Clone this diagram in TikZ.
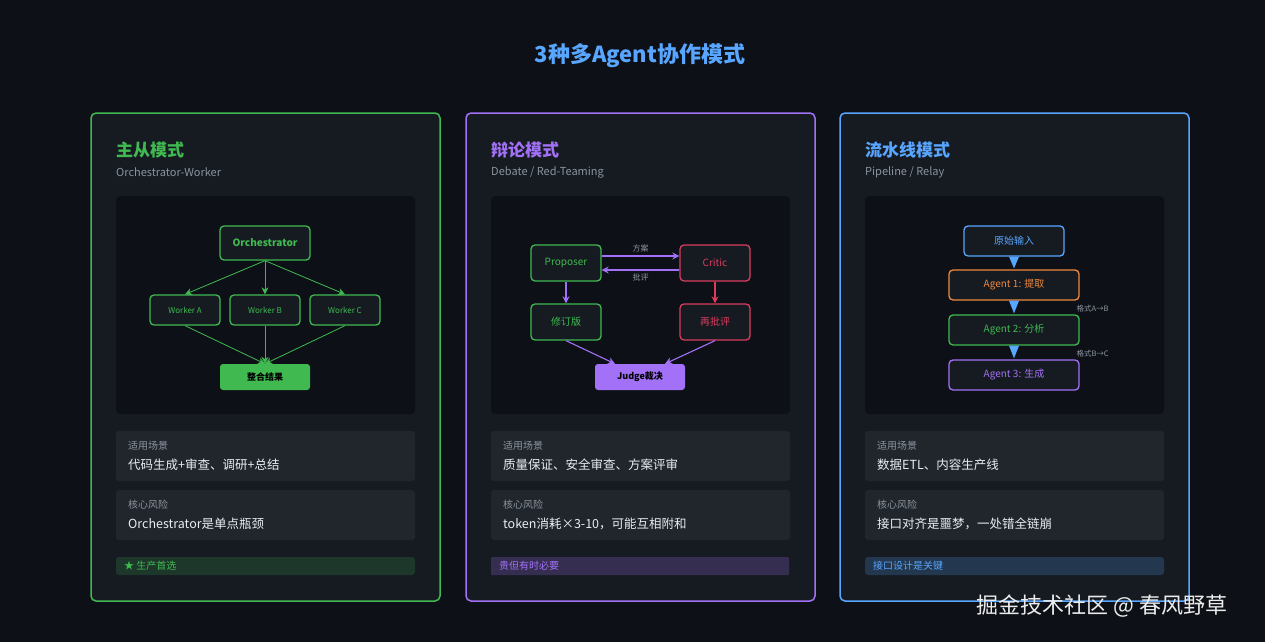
\documentclass[tikz,border=0pt]{standalone}
\usepackage{fontspec}
\setmainfont{Noto Sans CJK SC}
\usetikzlibrary{arrows.meta,positioning,calc}
\definecolor{bgdark}{HTML}{0D1117}
\definecolor{panel}{HTML}{161B22}
\definecolor{infobox}{HTML}{21262D}
\definecolor{ggreen}{HTML}{3FB950}
\definecolor{gpurple}{HTML}{A371F7}
\definecolor{gblue}{HTML}{58A6FF}
\definecolor{gred}{HTML}{DA3C5E}
\definecolor{gorange}{HTML}{F0883E}
\definecolor{ggray}{HTML}{8B949E}
\definecolor{gwhite}{HTML}{E6EDF3}

\begin{document}
\begin{tikzpicture}[
    x=1pt, y=-1pt,
    panelbox/.style={draw=#1, line width=1.5pt, fill=panel, rounded corners=5pt},
    inner/.style={fill=bgdark, rounded corners=4pt},
    info/.style={fill=infobox, rounded corners=3pt},
    box/.style={draw=#1, line width=1.3pt, fill=panel, rounded corners=4pt, text=#1, font=\fontsize{10}{12}\selectfont, inner sep=0pt},
    solid/.style={fill=#1, rounded corners=3pt, text=black, font=\bfseries\fontsize{9}{11}\selectfont, inner sep=0pt, minimum width=90pt, minimum height=26pt},
    arrow/.style={-{Stealth[length=7pt,width=7pt]}, line width=1.1pt, draw=#1},
    flow/.style={fill=gblue, draw=none},
    ptitle/.style={anchor=west, inner sep=0pt, font=\bfseries\fontsize{17}{20}\selectfont, text=#1},
    psub/.style={anchor=west, inner sep=0pt, font=\fontsize{11}{13}\selectfont, text=ggray},
    small/.style={anchor=west, inner sep=0pt, font=\fontsize{10}{12}\selectfont, text=ggray},
    body/.style={anchor=west, inner sep=0pt, font=\fontsize{12.5}{15}\selectfont, text=gwhite}
]
    \useasboundingbox[fill=bgdark] (0,0) rectangle (1265,642);
    \node[font=\bfseries\fontsize{22}{26}\selectfont, text=gblue] (title) at (640,56) {3种多Agent协作模式};

    % Panels
    \foreach \px/\col in {91/ggreen, 466/gpurple, 840/gblue} {
        \draw[panelbox=\col] (\px,113) rectangle ++(349,488);
        \fill[inner] (\px+25,196) rectangle ++(299,218);
        \fill[info] (\px+25,431) rectangle ++(299,50);
        \fill[info] (\px+25,490) rectangle ++(299,50);
    }
    \fill[fill=ggreen!18!panel, rounded corners=3pt] (116,557) rectangle (415,575);
    \fill[fill=gpurple!22!panel, rounded corners=1pt] (491,557) rectangle (789,575);
    \fill[fill=gblue!20!panel, rounded corners=3pt] (865,557) rectangle (1164,575);

    % Texts of the panels
    \node[ptitle=ggreen] (t1) at (116,150) {主从模式};
    \node[psub] (s1) at (116,172) {Orchestrator-Worker};
    \node[ptitle=gpurple] (t2) at (491,150) {辩论模式};
    \node[psub] (s2) at (491,172) {Debate / Red-Teaming};
    \node[ptitle=gblue] (t3) at (865,150) {流水线模式};
    \node[psub] (s3) at (865,172) {Pipeline / Relay};

    \node[small] (u1) at (128,446) {适用场景};
    \node[body] (b1) at (128,465) {代码生成+审查、调研+总结};
    \node[small] (r1) at (128,505) {核心风险};
    \node[body] (c1) at (128,524) {Orchestrator是单点瓶颈};
    \node[small, text=ggreen] (g1) at (124,566) {★ 生产首选};

    \node[small] (u2) at (503,446) {适用场景};
    \node[body] (b2) at (503,465) {质量保证、安全审查、方案评审};
    \node[small] (r2) at (503,505) {核心风险};
    \node[body] (c2) at (503,524) {token消耗×3-10，可能互相附和};
    \node[small, text=gpurple] (g2) at (499,566) {贵但有时必要};

    \node[small] (u3) at (877,446) {适用场景};
    \node[body] (b3) at (877,465) {数据ETL、内容生产线};
    \node[small] (r3) at (877,505) {核心风险};
    \node[body] (c3) at (877,524) {接口对齐是噩梦，一处错全链崩};
    \node[small, text=gblue] (g3) at (873,566) {接口设计是关键};

    % Orchestrator-Worker
    \node[box=ggreen, minimum width=90pt, minimum height=34pt, font=\bfseries\fontsize{10}{12}\selectfont] (orch) at (265,243) {Orchestrator};
    \node[solid=ggreen] (merge) at (265,377) {整合结果};
    \foreach \x/\n in {185/A, 265/B, 345/C} {
        \node[box=ggreen, minimum width=70pt, minimum height=30pt, font=\fontsize{8}{10}\selectfont] (w\n) at (\x,310) {Worker \n};
        \draw[arrow=ggreen, line width=0.8pt] (orch.south) -- (w\n.north);
        \draw[arrow=ggreen, line width=0.8pt] (w\n.south) -- (merge.north);
    }

    % Debate
    \node[box=ggreen, minimum width=70pt, minimum height=36pt] (prop) at (566,263) {Proposer};
    \node[box=gred, minimum width=70pt, minimum height=36pt] (crit) at (715,263) {Critic};
    \node[box=ggreen, minimum width=70pt, minimum height=36pt] (rev) at (566,322) {修订版};
    \node[box=gred, minimum width=70pt, minimum height=36pt] (recr) at (715,322) {再批评};
    \node[solid=gpurple] (judge) at (640,377) {Judge裁决};
    \draw[arrow=gpurple] (prop.east |- 0,256) -- node[above, font=\fontsize{8}{10}\selectfont, text=ggray] (fa) {方案} (crit.west |- 0,256);
    \draw[arrow=gpurple] (crit.west |- 0,270) -- node[below, font=\fontsize{8}{10}\selectfont, text=ggray] (pp) {批评} (prop.east |- 0,270);
    \draw[arrow=gpurple] (prop) -- (rev);
    \draw[arrow=gred] (crit) -- (recr);
    \draw[arrow=gpurple] (rev.south) -- ($(judge.north)+(-25,0)$);
    \draw[arrow=gpurple] (recr.south) -- ($(judge.north)+(25,0)$);

    % Pipeline
    \node[box=gblue, minimum width=100pt, minimum height=30pt] (input) at (1014,241) {原始输入};
    \node[box=gorange, minimum width=130pt, minimum height=30pt] (ag1) at (1014,285) {Agent 1: 提取};
    \node[box=ggreen, minimum width=130pt, minimum height=30pt] (ag2) at (1014,330) {Agent 2: 分析};
    \node[box=gpurple, minimum width=130pt, minimum height=30pt] (ag3) at (1014,375) {Agent 3: 生成};
    \foreach \a/\b in {input/ag1, ag1/ag2, ag2/ag3} {
        \fill[flow] ($(\a.south)+(-5,0)$) -- ($(\a.south)+(5,0)$) -- ($(\b.north)+(0,-1)$) -- cycle;
    }
    \node[font=\fontsize{7.5}{9}\selectfont, text=ggray, anchor=west] (fab) at (1073,309) {格式A→B};
    \node[font=\fontsize{7.5}{9}\selectfont, text=ggray, anchor=west] (fbc) at (1073,354) {格式B→C};

    % Watermark
    \node[font=\fontsize{22}{26}\selectfont, text=white!85!gray] (mark) at (1102,606) {掘金技术社区 @ 春风野草};
\end{tikzpicture}
\end{document}
